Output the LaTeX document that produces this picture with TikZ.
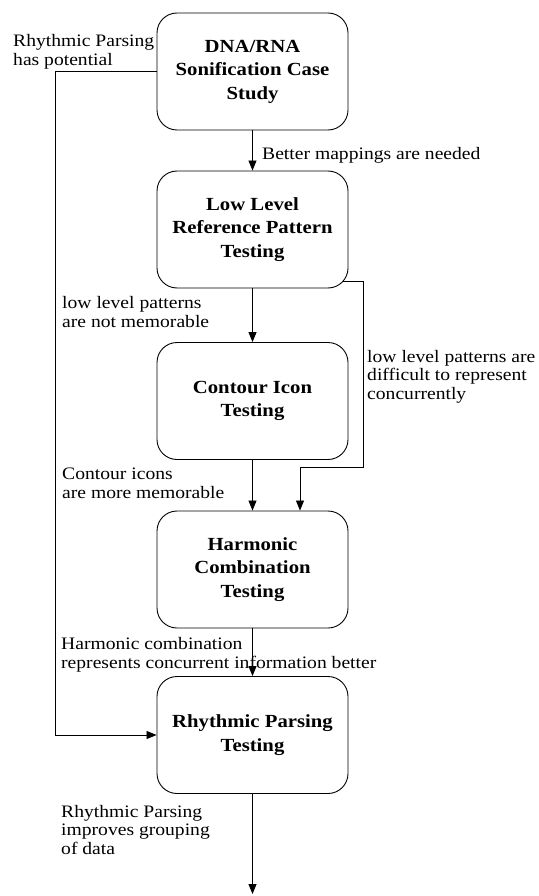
\documentclass[tikz,border=0pt]{standalone}
\usepackage{fontspec}
\setmainfont{Liberation Serif}[FakeStretch=1.12]
\usetikzlibrary{arrows.meta,calc}
\begin{document}
\begin{tikzpicture}[x=1pt,y=-1pt,
  stagebox/.style={draw=black, line width=0.9pt, rounded corners=20pt,
    minimum width=191pt, minimum height=117pt, align=center,
    font=\bfseries\fontsize{18.5}{23.5}\selectfont},
  lbl/.style={anchor=base west, align=left, inner sep=0pt,
    font=\fontsize{17.5}{18.5}\selectfont},
  conn/.style={draw=black, line width=0.8pt},
  arr/.style={conn, -{Triangle[length=10pt,width=8pt]}}]
\useasboundingbox (0,0) rectangle (538,896);

% stages
\node[stagebox] (s1) at (252.5,71.5) {DNA/RNA\\Sonification Case\\Study};
\node[stagebox] (s2) at (252.5,229.5) {Low Level\\Reference Pattern\\Testing};
\node[stagebox] (s3) at (252.5,401) {Contour Icon\\Testing};
\node[stagebox] (s4) at (252.5,569.5) {Harmonic\\Combination\\Testing};
\node[stagebox] (s5) at (252.5,735) {Rhythmic Parsing\\Testing};
\coordinate (end) at (252.5,894);

% connectors
\draw[arr] (s1.south) -- (s2.north);
\draw[arr] (s2.south) -- (s3.north);
\draw[arr] (s3.south) -- (s4.north);
\draw[arr] (s4.south) -- (s5.north);
\draw[arr] (s5.south) -- (end);
\draw[arr] (s1.west) -- ++(-101,0) |- (s5.west);
\draw[arr] ($(s2.south east)+(-5,-7)$) -- ++(20,0)
   |- ($(s4.north)+(47.5,-43)$) -- ($(s4.north)+(47.5,0)$);

% labels (anchor = baseline of the last line)
\node[lbl] (l1) at (13,65.5) {Rhythmic Parsing\\has potential};
\node[lbl] (l2) at (262,160) {Better mappings are needed};
\node[lbl] (l3) at (62,327) {low level patterns\\are not memorable};
\node[lbl] (l4) at (367,399) {low level patterns are\\difficult to represent\\concurrently};
\node[lbl] (l5) at (62,498) {Contour icons\\are more memorable};
\node[lbl] (l6) at (61,668) {Harmonic combination\\represents concurrent information better};
\node[lbl] (l7) at (61,854) {Rhythmic Parsing\\improves grouping\\of data};
\end{tikzpicture}
\end{document}
